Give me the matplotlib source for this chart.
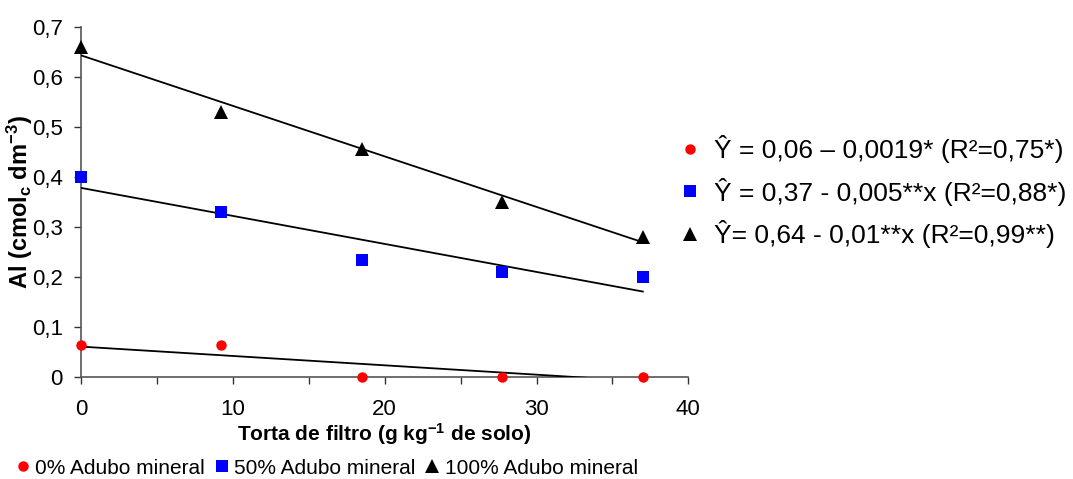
import numpy as np
import matplotlib
matplotlib.use("Agg")
import matplotlib.pyplot as plt
from matplotlib.ticker import MultipleLocator, FuncFormatter

plt.rcParams['font.family'] = ['Liberation Sans', 'DejaVu Sans']
plt.rcParams['mathtext.fontset'] = 'custom'
plt.rcParams['mathtext.rm'] = 'Liberation Sans'
plt.rcParams['mathtext.bf'] = 'Liberation Sans:bold'
plt.rcParams['mathtext.it'] = 'Liberation Sans:italic'

# doses of filter cake (g/kg)
dose = np.array([0, 9.25, 18.5, 27.75, 37])

# Al content per mineral fertilizer level
al_0 = [0.063, 0.063, 0.0, 0.0, 0.0]
al_50 = [0.40, 0.33, 0.233, 0.21, 0.20]
al_100 = [0.66, 0.53, 0.455, 0.35, 0.28]

# fitted trend lines (intercept, slope) as drawn
intercepts = [0.0607, 0.378, 0.643]
slopes = [-0.00187, -0.0056, -0.0101]

names = ['0% Adubo mineral', '50% Adubo mineral', '100% Adubo mineral']
equations = ['Ŷ = 0,06 – 0,0019* (R²=0,75*)',
             'Ŷ = 0,37 - 0,005**x (R²=0,88*)',
             'Ŷ= 0,64 - 0,01**x (R²=0,99**)']

fig = plt.figure(figsize=(10.73, 4.79), dpi=100)
ax = fig.add_axes([0.0755, 0.213, 0.566, 0.731])

styles = [dict(marker='o', color='#ff0000', ms=7.5),
          dict(marker='s', color='#0000ff', ms=9),
          dict(marker='^', color='black', ms=10)]

handles = []
for vals, st in zip([al_0, al_50, al_100], styles):
    h, = ax.plot(dose, vals, linestyle='none', clip_on=False, zorder=5,
                 marker=st['marker'], color=st['color'], markersize=st['ms'],
                 markeredgewidth=0)
    handles.append(h)

xx = np.array([0, 37])
for b0, b1 in zip(intercepts, slopes):
    ax.plot(xx, b0 + b1 * xx, color='black', lw=1.3, zorder=3)

ax.set_xlim(0, 40)
ax.set_ylim(0, 0.7)
ax.xaxis.set_major_locator(MultipleLocator(10))
ax.xaxis.set_minor_locator(MultipleLocator(5))
ax.yaxis.set_major_locator(MultipleLocator(0.1))
fmt = FuncFormatter(lambda v, p: ('%g' % round(v, 2)).replace('.', ','))
ax.xaxis.set_major_formatter(fmt)
ax.yaxis.set_major_formatter(fmt)

for s in ['top', 'right']:
    ax.spines[s].set_visible(False)
for s in ['left', 'bottom']:
    ax.spines[s].set_color('#555555')
    ax.spines[s].set_linewidth(1.2)
    ax.spines[s].set_zorder(2)

ax.tick_params(axis='x', which='both', direction='out', length=5, width=1, colors='#333333',
               labelsize=16, labelcolor='black', pad=11)
ax.tick_params(axis='y', direction='out', length=5, width=1, colors='#333333',
               labelsize=16, labelcolor='black', pad=8)

ax.set_xlabel(r'Torta de filtro (g kg$^\mathbf{-1}$ de solo)', fontsize=15, fontweight='bold', labelpad=1)
ax.set_ylabel(r'Al (cmol$_\mathbf{c}$ dm$^\mathbf{-3}$)', fontsize=17, fontweight='bold')
ax.yaxis.set_label_coords(-0.076, 0.5)

fig.legend(handles, equations, loc='center left', bbox_to_anchor=(0.611, 0.6),
           frameon=False, fontsize=19, handlelength=0.8, handletextpad=0.5,
           labelspacing=0.55)
fig.legend(handles, names, loc='lower left', bbox_to_anchor=(0.0, -0.032), ncol=3,
           frameon=False, fontsize=15, handlelength=0.6, handletextpad=0.3,
           columnspacing=0.5, borderpad=0.3)

fig.savefig('out.png', dpi=100)
